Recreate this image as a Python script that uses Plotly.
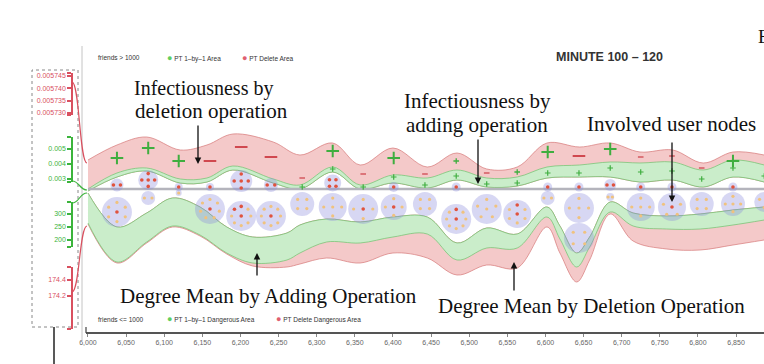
import math
import plotly.graph_objects as go

W, H = 764, 364

# ---------------- data ----------------
# upper bands (infectiousness), offset above the baseline
up_x = [6000, 6038, 6077, 6121, 6156, 6190, 6243, 6278, 6321, 6357, 6400, 6445,
        6484, 6523, 6563, 6602, 6645, 6685, 6724, 6767, 6807, 6846, 6887]
up_del_top = [29, 44, 52, 39, 44, 55, 47, 34, 46, 24, 41, 22, 36, 20, 22, 46, 42, 46, 37, 39, 26, 37, 34]
up_add_top = [0, 16, 21, 10, 11, 23, 10, 4, 22, 4, 14, 11, 19, 11, 12, 22, 24, 27, 26, 27, 19, 29, 24]
up_add_bot = [-2, 12, 18, 6, 7, 19, 6, 0, 17, 0, 6, 1, 9, 2, 3, 11, 12, 12, 7, 9, 2, 12, 7]

# lower bands (degree mean), offset below the baseline
lo_x = [6000, 6038, 6077, 6111, 6147, 6182, 6216, 6261, 6278, 6313, 6357, 6400, 6445,
        6484, 6523, 6563, 6602, 6619, 6641, 6658, 6685, 6715, 6759, 6803, 6846, 6887]
lo_add_top = [-4, -38, -24, -9, -18, -38, -48, -44, -36, -30, -33, -28, -28,
              -54, -39, -45, -18, -37, -64, -48, -13, -24, -27, -25, -21, -18]
lo_add_bot = [-34, -73, -53, -37, -46, -64, -74, -71, -64, -53, -54, -48, -45,
              -71, -59, -59, -28, -50, -78, -58, -23, -37, -40, -40, -36, -31]
lo_del_bot = [-35, -74, -54, -38, -47, -65, -77, -78, -75, -69, -74, -64, -69,
              -86, -76, -79, -38, -64, -93, -71, -25, -52, -60, -61, -56, -51]

# involved user nodes
node_x = [6038, 6079, 6119, 6160, 6201, 6240, 6281, 6321, 6361, 6401, 6442,
          6483, 6523, 6563, 6603, 6644, 6685, 6725, 6766, 6805, 6846, 6887]
node_up_y = [4, 9, 2, 2, 8, 4, 0, 6, 0, 2, 0, 2, 0, 0, 2, 2, 4, 2, 2, 0, 2, 0]
node_up_d = [13, 20, 8, 8, 22, 14, 0, 17, 0, 10, 0, 9, 0, 0, 9, 9, 12, 9, 9, 0, 9, 0]
node_up_n = [2, 5, 1, 1, 5, 2, 0, 4, 0, 1, 0, 1, 0, 0, 1, 1, 2, 1, 1, 0, 1, 0]
node_lo_y = [-23, -9, -4, -20, -27, -27, -15, -18, -20, -18, -15, -30, -20, -25, -9, -19, -8, -18, -18, -15, -15, -13]
node_lo_d = [30, 14, 6, 30, 30, 30, 24, 28, 30, 26, 24, 30, 30, 28, 14, 30, 8, 28, 28, 24, 24, 20]
node_lo_n = [7, 2, 1, 8, 9, 9, 4, 5, 5, 5, 4, 9, 6, 7, 2, 5, 2, 5, 6, 4, 5, 3]
node_lo_red = [1, 0, 0, 1, 3, 1, 0, 0, 1, 1, 0, 2, 0, 2, 0, 0, 0, 0, 2, 0, 0, 0]
extra_x = [6644]
extra_y = [-49]
extra_d = [30]
extra_n = [4]

# +/- operation signs in the upper band
sign_x = node_x[:21]
sign_kind = ['+', '+', '+', '-', '-', '-', '-', '+', '-', '+', '-', '+', '-', '+', '+', '-', '+', '-', '-', '-', '+']
sign_y = [31, 41, 28, 28, 42, 32, 11, 38, 15, 31, 15, 28, 16, 17, 37, 33, 40, 32, 33, 21, 28]
sign_big = [1, 1, 1, 1, 1, 1, 0, 1, 0, 1, 0, 0, 0, 0, 1, 1, 1, 0, 0, 0, 1]
addsign_x = node_x[6:22]
addsign_y = [2, 20, 2, 12, 4, 13, 5, 6, 16, 16, 21, 17, 18, 10, 21, 13]

x_ticks = [6000, 6050, 6100, 6150, 6200, 6250, 6300, 6350, 6400, 6450,
           6500, 6550, 6600, 6650, 6700, 6750, 6800, 6850]
inf_del_ticks = [0.005745, 0.005740, 0.005735, 0.005730]
inf_add_ticks = [0.005, 0.004, 0.003]
deg_add_ticks = [300, 250, 200]
deg_del_ticks = [174.4, 174.2]

# ---------------- style ----------------
RED = "#d9505f"
GREEN = "#3cb43c"
RED_FILL = "#f4c9c9"
GREEN_FILL = "#caedca"
RED_EDGE = "rgba(214,120,120,0.7)"
GREEN_EDGE = "rgba(110,195,110,0.7)"
SERIF = "Liberation Serif"
SANS = "Liberation Sans"

XL, XR = 86, 764          # main plot px
YT, YB = 48, 332
X0, X1 = 5997.4, 6886.7
Y0, Y1 = -143, 141
XS = (X1 - X0) / (XR - XL)   # data units per px


def px(x):
    return x / W


def py(y):
    return 1 - y / H


fig = go.Figure()


def band(xs, lo, hi, fill, edge):
    fig.add_trace(go.Scatter(x=xs, y=lo, mode="lines", line=dict(color=edge, width=1, shape="spline"),
                             hoverinfo="skip", showlegend=False))
    fig.add_trace(go.Scatter(x=xs, y=hi, mode="lines", line=dict(color=edge, width=1, shape="spline"),
                             fill="tonexty", fillcolor=fill, hoverinfo="skip", showlegend=False))


band(up_x, up_add_bot, up_del_top, RED_FILL, RED_EDGE)
band(up_x, up_add_bot, up_add_top, GREEN_FILL, GREEN_EDGE)
band(lo_x, lo_del_bot, lo_add_top, RED_FILL, RED_EDGE)
band(lo_x, lo_add_bot, lo_add_top, GREEN_FILL, GREEN_EDGE)

# baseline
fig.add_trace(go.Scatter(x=[6000, X1], y=[0, 0], mode="lines",
                         line=dict(color="#b4b4bc", width=2.5), hoverinfo="skip", showlegend=False))

CIRC = "rgba(140,140,222,0.5)"
# node circles
cx, cy, cs = [], [], []
for x, y, d in zip(node_x, node_lo_y, node_lo_d):
    cx.append(x); cy.append(y); cs.append(d)
for x, y, d in zip(extra_x, extra_y, extra_d):
    cx.append(x); cy.append(y); cs.append(d)
for x, y, d in zip(node_x, node_up_y, node_up_d):
    if d > 0:
        cx.append(x); cy.append(y); cs.append(d)
fig.add_trace(go.Scatter(x=cx, y=cy, mode="markers",
                         marker=dict(size=cs, color=CIRC, line=dict(width=0)),
                         hoverinfo="skip", showlegend=False))


def offsets(n, d):
    if n <= 0:
        return []
    if n == 1:
        return [(0.0, 0.0)]
    pts = []
    if n <= 4:
        r, ring, a0 = 0.27 * d, n, math.pi / 2 + math.pi / n
    else:
        pts.append((0.0, 0.0))
        r, ring, a0 = 0.32 * d, n - 1, math.pi / 2
    for k in range(ring):
        a = a0 + 2 * math.pi * k / ring
        pts.append((r * math.cos(a), r * math.sin(a)))
    return pts


dx_r, dy_r, dx_o, dy_o = [], [], [], []
for x, y, d, n in zip(node_x, node_up_y, node_up_d, node_up_n):
    for ox, oy in offsets(n, d):
        dx_r.append(x + ox * XS); dy_r.append(y + oy)
for x, y, d, n, nr in zip(node_x, node_lo_y, node_lo_d, node_lo_n, node_lo_red):
    for i, (ox, oy) in enumerate(offsets(n, d)):
        if i < nr:
            dx_r.append(x + ox * XS); dy_r.append(y + oy)
        else:
            dx_o.append(x + ox * XS); dy_o.append(y + oy)
for x, y, d, n in zip(extra_x, extra_y, extra_d, extra_n):
    for ox, oy in offsets(n, d):
        dx_o.append(x + ox * XS); dy_o.append(y + oy)
fig.add_trace(go.Scatter(x=dx_o, y=dy_o, mode="markers", marker=dict(size=3.2, color="#f0c27e"),
                         hoverinfo="skip", showlegend=False))
fig.add_trace(go.Scatter(x=dx_r, y=dy_r, mode="markers", marker=dict(size=3.6, color="#e0533e"),
                         hoverinfo="skip", showlegend=False))

# signs
for kind, big in [('+', 1), ('+', 0), ('-', 1), ('-', 0)]:
    xs = [x for x, k, b in zip(sign_x, sign_kind, sign_big) if k == kind and b == big]
    ys = [y for y, k, b in zip(sign_y, sign_kind, sign_big) if k == kind and b == big]
    col = "#3fae3f" if kind == '+' else "#d0484f"
    fig.add_trace(go.Scatter(
        x=xs, y=ys, mode="markers",
        marker=dict(symbol="cross-thin" if kind == '+' else "line-ew",
                    size=9 if big else 4, line=dict(color=col, width=2 if big else 1.3)),
        hoverinfo="skip", showlegend=False))
fig.add_trace(go.Scatter(x=addsign_x, y=addsign_y, mode="markers",
                         marker=dict(symbol="cross-thin", size=4, line=dict(color="#3fae3f", width=1.2)),
                         hoverinfo="skip", showlegend=False))

# left side axes
left_axes = [
    (RED, (115, 73), (0.0057292, 0.0057462), inf_del_ticks, [f"{v:.6f}" for v in inf_del_ticks]),
    (GREEN, (182, 137), (0.0028, 0.0058), inf_add_ticks, [f"{v:.3f}" for v in inf_add_ticks]),
    (GREEN, (247, 202), (173.6, 343.4), deg_add_ticks, [str(v) for v in deg_add_ticks]),
    (RED, (329, 267), (173.79, 174.56), deg_del_ticks, [f"{v:.1f}" for v in deg_del_ticks]),
]
layout_axes = {}
for i, (col, (b, t), (r0, r1), vals, txt) in enumerate(left_axes, start=2):
    eps = (r1 - r0) * 0.004
    fig.add_trace(go.Scatter(x=[None], y=[None], xaxis=f"x{i}", yaxis=f"y{i}",
                             hoverinfo="skip", showlegend=False))
    layout_axes[f"xaxis{i}"] = dict(domain=[0.0, 0.09], visible=False, range=[0, 1], anchor=f"y{i}")
    layout_axes[f"yaxis{i}"] = dict(
        domain=[py(b), py(t)], range=[r0, r1], anchor="free", position=px(72), side="left",
        showline=True, linecolor=col, linewidth=1.5, ticks="outside", ticklen=4, tickwidth=1.5,
        tickcolor=col, tickvals=[r0 + eps] + list(vals) + [r1 - eps], ticktext=[""] + txt + [""],
        tickfont=dict(family=SANS, size=7, color=col), showgrid=False, zeroline=False,
        fixedrange=True, automargin=False)

shapes = []
# dotted box around the left axes
shapes.append(dict(type="rect", xref="paper", yref="paper", x0=px(32), x1=px(78), y0=py(327), y1=py(70),
                   line=dict(color="#888", width=1, dash="dot")))
shapes.append(dict(type="line", xref="paper", yref="paper", x0=px(54), x1=px(54), y0=py(327), y1=py(364),
                   line=dict(color="#222", width=1.5)))
# panel left border
shapes.append(dict(type="line", xref="paper", yref="paper", x0=px(82), x1=px(82), y0=py(340), y1=py(46),
                   line=dict(color="#c4c4c4", width=1)))
shapes.append(dict(type="line", xref="paper", yref="paper", x0=px(86), x1=px(86), y0=py(333), y1=py(327),
                   line=dict(color="#444", width=1.2)))


def curve(x0, y0, x1, y1, col):
    xm = (x0 + x1) / 2
    path = (f"M {px(x0)},{py(y0)} C {px(xm)},{py(y0)} {px(xm)},{py(y1)} {px(x1)},{py(y1)}")
    return dict(type="path", xref="paper", yref="paper", path=path, line=dict(color=col, width=1.2))


shapes.append(curve(72, 82, 87, 163, RED))
shapes.append(curve(72, 181, 87, 190, GREEN))
shapes.append(curve(72, 203, 87, 193, GREEN))
shapes.append(curve(72, 292, 87, 226, RED))

ann = []


def text(x, y, s, size, family=SERIF, color="#111", xanchor="center"):
    ann.append(dict(x=px(x), y=py(y), xref="paper", yref="paper", text=s, showarrow=False,
                    xanchor=xanchor, yanchor="middle", font=dict(family=family, size=size, color=color)))


text(203, 88, "Infectiousness by", 20)
text(211, 111, "deletion operation", 21)
text(477, 101, "Infectiousness by", 21)
text(477, 125, "adding operation", 21)
text(671, 124, "Involved user nodes", 21)
text(268, 296, "Degree Mean by Adding Operation", 21)
text(591, 306, "Degree Mean by Deletion Operation", 21)
text(756, 37, "E", 19, xanchor="left")
text(554, 57, "<b>MINUTE 100 – 120</b>", 12.5, family=SANS, color="#333", xanchor="left")
GD = '<span style="color:#5fcf5f;font-size:9px">●</span>'
RD = '<span style="color:#e06070;font-size:9px">●</span>'
text(96, 58, "friends &gt; 1000", 6.5, family=SANS, color="#333", xanchor="left")
text(165, 58, GD + " PT 1–by–1 Area", 6.5, family=SANS, color="#333", xanchor="left")
text(240, 58, RD + " PT Delete Area", 6.5, family=SANS, color="#333", xanchor="left")
text(96, 319, "friends &lt;= 1000", 6.5, family=SANS, color="#333", xanchor="left")
text(165, 319, GD + " PT 1–by–1 Dangerous Area", 6.5, family=SANS, color="#333", xanchor="left")
text(274, 319, RD + " PT Delete Dangerous Area", 6.5, family=SANS, color="#333", xanchor="left")


def arrow(x, ytip, ytail):
    ann.append(dict(x=px(x), y=py(ytip), xref="paper", yref="paper", text="", showarrow=True,
                    ax=0, ay=ytail - ytip, arrowhead=2, arrowsize=1, arrowwidth=1.3, arrowcolor="#111"))


arrow(198, 164, 124)
arrow(478, 184, 138)
arrow(672, 202, 141)
arrow(257, 253, 277)
arrow(514, 262, 292)

fig.update_layout(
    width=W, height=H, margin=dict(l=0, r=0, t=0, b=0, autoexpand=False),
    paper_bgcolor="white", plot_bgcolor="rgba(0,0,0,0)",
    showlegend=False, hovermode=False,
    xaxis=dict(domain=[px(XL), px(XR)], range=[X0, X1], showline=True, linecolor="#555", linewidth=1.5,
               ticks="outside", ticklen=3, tickcolor="#888", tickvals=x_ticks, tickformat=",",
               tickfont=dict(family=SANS, size=7, color="#666"), showgrid=False, zeroline=False,
               anchor="y", fixedrange=True, automargin=False),
    yaxis=dict(domain=[py(YB), py(YT)], range=[Y0, Y1], visible=False, fixedrange=True),
    shapes=shapes, annotations=ann,
    **layout_axes,
)

fig.write_html("out.html", config={"displayModeBar": False},
               post_script="document.body.style.margin='0';document.body.style.overflow='hidden';")
